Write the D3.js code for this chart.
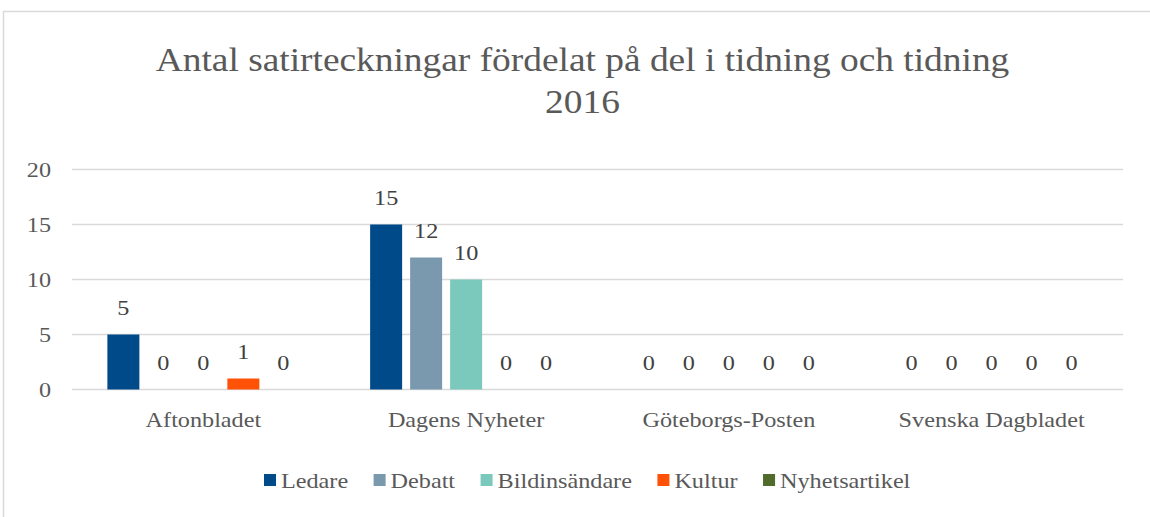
<!DOCTYPE html>
<html>
<head>
<meta charset="utf-8">
<script src="https://cdn.jsdelivr.net/npm/d3@7"></script>
<style>
  body { margin: 0; background: #fff; }
  text { font-family: "Liberation Serif", "Times New Roman", serif; }
</style>
</head>
<body>
<svg id="grafico"></svg>
<script>
const tidningar = ["Aftonbladet", "Dagens Nyheter", "Göteborgs-Posten", "Svenska Dagbladet"];
const delar = ["Ledare", "Debatt", "Bildinsändare", "Kultur", "Nyhetsartikel"];
const ledare = [5, 15, 0, 0];
const debatt = [0, 12, 0, 0];
const bildinsandare = [0, 10, 0, 0];
const kultur = [1, 0, 0, 0];
const nyhetsartikel = [0, 0, 0, 0];
const yTicks = [0, 5, 10, 15, 20];
const titel = ["Antal satirteckningar fördelat på del i tidning och tidning", "2016"];

const serier = [ledare, debatt, bildinsandare, kultur, nyhetsartikel];
const cores = ["#004a8a", "#7a99ae", "#7bc9bc", "#ff5208", "#506b2b"];

const largura = 1150, altura = 517;
const esticar = 1.1; // texten i originalet är något bredare än hög
const svg = d3.select("#grafico").attr("width", largura).attr("height", altura);

function posicao(fx, fy) {
    return (d, i) => `translate(${fx(d, i)},${fy(d, i)}) scale(${esticar},1)`;
}

// ram runt diagrammet
svg.append("rect")
    .attr("x", 3.5).attr("y", 11.5)
    .attr("width", 1300).attr("height", 700)
    .attr("fill", "none").attr("stroke", "#d9d9d9").attr("stroke-width", 1.5);

const plot = { left: 72, right: 1123, top: 169.5, bottom: 389.5 };

const fnX = d3.scaleBand().domain(tidningar).range([plot.left, plot.right]).padding(0);
const grupp = 200;
const fnX1 = d3.scaleBand().domain(delar)
    .range([(fnX.bandwidth() - grupp) / 2, (fnX.bandwidth() + grupp) / 2])
    .paddingInner(0.2).paddingOuter(0.1);
const fnY = d3.scaleLinear().domain([0, 20]).range([plot.bottom, plot.top]);

// rutnät
svg.append("g").selectAll("line").data(yTicks).enter().append("line")
    .attr("x1", plot.left).attr("x2", plot.right)
    .attr("y1", d => fnY(d)).attr("y2", d => fnY(d))
    .attr("stroke", "#d9d9d9").attr("stroke-width", 1.5);

// y-axel etiketter
svg.append("g").selectAll("text").data(yTicks).enter().append("text")
    .attr("transform", posicao(() => 51, d => fnY(d) + 7.5))
    .attr("text-anchor", "end").attr("font-size", 22).attr("fill", "#595959")
    .text(d => d);

// staplar
const dados = [];
tidningar.forEach((t, i) => delar.forEach((d, j) => dados.push({ tidning: t, del: d, valor: serier[j][i], cor: cores[j] })));

const g = svg.append("g");
g.selectAll(".barras").data(dados).enter().append("rect")
    .classed("barras", true)
    .attr("x", d => fnX(d.tidning) + fnX1(d.del))
    .attr("y", d => fnY(d.valor))
    .attr("width", fnX1.bandwidth())
    .attr("height", d => fnY(0) - fnY(d.valor))
    .attr("fill", d => d.cor);

g.selectAll(".rotulo").data(dados).enter().append("text")
    .classed("rotulo", true)
    .attr("transform", posicao(d => fnX(d.tidning) + fnX1(d.del) + fnX1.bandwidth() / 2, d => fnY(d.valor) - 19.5))
    .attr("text-anchor", "middle").attr("font-size", 22).attr("fill", "#404040")
    .text(d => d.valor);

// kategorietiketter
svg.append("g").selectAll("text").data(tidningar).enter().append("text")
    .attr("transform", posicao(d => fnX(d) + fnX.bandwidth() / 2, () => 427))
    .attr("text-anchor", "middle").attr("font-size", 22).attr("fill", "#595959")
    .text(d => d);

// titel
svg.append("g").selectAll("text").data(titel).enter().append("text")
    .attr("transform", posicao(() => 582.5, (d, i) => 71 + i * 41.5))
    .attr("text-anchor", "middle").attr("font-size", 34).attr("fill", "#595959")
    .text(d => d);

// förklaring
const legenda = svg.append("g");
let lx = 264;
delar.forEach((d, j) => {
    legenda.append("rect").attr("x", lx).attr("y", 474).attr("width", 12).attr("height", 12).attr("fill", cores[j]);
    const t = legenda.append("text")
        .attr("transform", `translate(${lx + 17},488) scale(${esticar},1)`)
        .attr("font-size", 22).attr("fill", "#595959").text(d);
    lx += 17 + t.node().getComputedTextLength() * esticar + 25.5;
});
</script>
</body>
</html>
